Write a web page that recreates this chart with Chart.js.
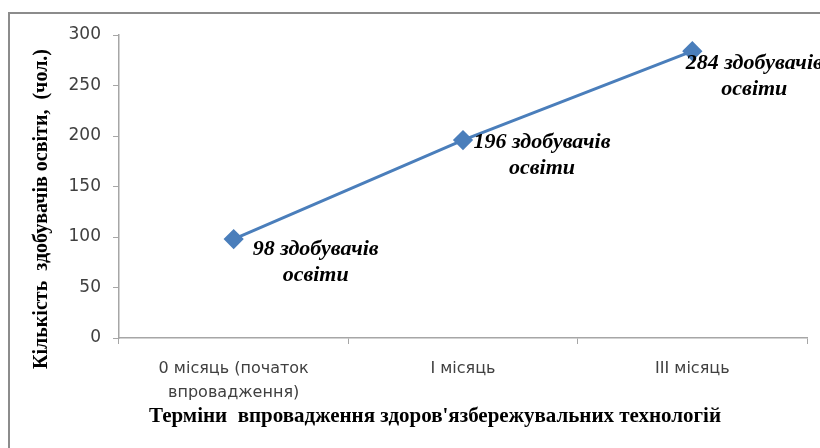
<!DOCTYPE html>
<html>
<head>
<meta charset="utf-8">
<script src="https://cdn.jsdelivr.net/npm/chart.js@4.4.0/dist/chart.umd.min.js"></script>
<style>
  html, body { margin: 0; padding: 0; background: #fff; }
  #wrap { position: relative; width: 820px; height: 448px; }
</style>
</head>
<body>
<div id="wrap"><canvas id="lineChart"></canvas></div>
<script>
var categories = [['0 місяць (початок', 'впровадження)'], 'I місяць', 'III місяць']
var students = [98, 196, 284]
var pointLabels = [
  ['98 здобувачів', 'освіти'],
  ['196 здобувачів', 'освіти'],
  ['284 здобувачів', 'освіти']
]
var yTicks = [0, 50, 100, 150, 200, 250, 300]
var xTitle = "Терміни  впровадження здоров'язбережувальних технологій"
var yTitle = 'Кількість  здобувачів освіти,  (чол.)'

var lineColour = '#4a7ebb'
var axisColour = '#a6a6a6'

// frame, axis titles and the value labels
var decorPlugin = {
  id: 'decor',
  beforeDraw: function (chart) {
    var ctx = chart.ctx
    ctx.save()
    ctx.strokeStyle = '#8c8c8c'
    ctx.lineWidth = 2
    ctx.beginPath()
    ctx.moveTo(9, 448)
    ctx.lineTo(9, 13)
    ctx.lineTo(820, 13)
    ctx.stroke()
    ctx.restore()
  },
  afterDraw: function (chart, args, opts) {
    var ctx = chart.ctx
    var area = chart.chartArea
    ctx.save()
    ctx.fillStyle = '#000'
    ctx.textAlign = 'center'
    ctx.textBaseline = 'middle'
    ctx.font = 'bold 21px "Liberation Serif"'
    ctx.fillText(xTitle, area.left + opts.xTitleDx + area.width / 2, 417)

    ctx.save()
    ctx.translate(42, 209)
    ctx.rotate(-Math.PI / 2)
    ctx.font = 'bold 20px "Liberation Serif"'
    ctx.fillText(yTitle, 0, 0)
    ctx.restore()

    var meta = chart.getDatasetMeta(0)
    ctx.font = 'italic bold 22px "Liberation Serif"'
    meta.data.forEach(function (pt, i) {
      var off = opts.labelOffsets[i]
      var lines = pointLabels[i]
      lines.forEach(function (line, j) {
        ctx.fillText(line, pt.x + off[0], pt.y + off[1] + j * 26)
      })
    })
    ctx.restore()
  }
}

var ctx = document.getElementById('lineChart').getContext('2d')
var lineChart = new Chart(ctx, {
  type: 'line',
  data: {
    labels: categories,
    datasets: [{
      label: 'Кількість здобувачів освіти',
      data: students,
      borderColor: lineColour,
      backgroundColor: lineColour,
      pointBackgroundColor: lineColour,
      pointBorderColor: lineColour,
      pointStyle: 'rectRot',
      pointRadius: 8,
      borderWidth: 3,
      tension: 0,
      fill: false
    }]
  },
  options: {
    responsive: true,
    maintainAspectRatio: false,
    animation: false,
    layout: {
      padding: { left: 0, right: 13, top: 35, bottom: 0 }
    },
    plugins: {
      legend: { display: false },
      tooltip: { enabled: false },
      decor: {
        xTitleDx: -28,
        labelOffsets: [[82, 10], [79, 2], [62, 12]]
      }
    },
    scales: {
      x: {
        offset: true,
        afterFit: function (scale) { scale.height = 110 },
        grid: {
          offset: true,
          drawOnChartArea: false,
          color: axisColour,
          tickLength: 6
        },
        border: { color: axisColour, width: 1.5 },
        ticks: {
          color: '#404040',
          padding: 12,
          maxRotation: 0,
          font: { family: '"DejaVu Sans"', size: 16, lineHeight: 1.55 }
        }
      },
      y: {
        min: 0,
        max: 300,
        afterFit: function (scale) { scale.width = 119 },
        afterBuildTicks: function (scale) {
          scale.ticks = yTicks.map(function (v) { return { value: v } })
        },
        grid: {
          drawOnChartArea: false,
          color: axisColour,
          tickLength: 6
        },
        border: { color: axisColour, width: 1.5 },
        ticks: {
          color: '#404040',
          padding: 12,
          font: { family: '"DejaVu Sans"', size: 17 }
        }
      }
    }
  },
  plugins: [decorPlugin]
})
</script>
</body>
</html>
